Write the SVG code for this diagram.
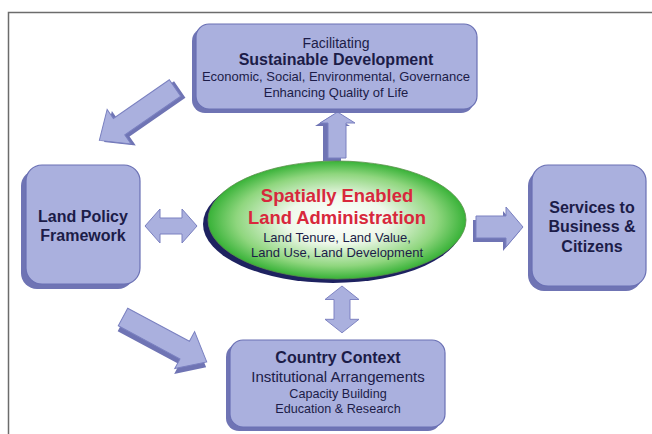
<svg xmlns="http://www.w3.org/2000/svg" width="652" height="434" viewBox="0 0 652 434">
<defs>
<radialGradient id="g" cx="0.5" cy="0.5" r="0.5">
<stop offset="0" stop-color="#ffffff"/>
<stop offset="0.4" stop-color="#eef8ea"/>
<stop offset="0.78" stop-color="#8fd67e"/>
<stop offset="1" stop-color="#38b238"/>
</radialGradient>
<polygon id="dbl" points="0,0 15,-17 15,-8 37,-8 37,-17 52,0 37,17 37,8 15,8 15,17"/>
</defs>
<style>
.box{fill:#aab0de;stroke:#6a70b4;stroke-width:1.2}
.sh{fill:#6f74b4}
.arr{fill:#aab0de;stroke:#7a80c0;stroke-width:1}
.t{font-family:"Liberation Sans",Arial,sans-serif;fill:#1c1c48;text-anchor:middle}
.b{font-weight:bold}
.r{font-family:"Liberation Sans",Arial,sans-serif;fill:#d8283c;font-weight:bold;text-anchor:middle}
</style>
<rect width="652" height="434" fill="#ffffff"/>
<path d="M8.5,434 V12.5 H652" fill="none" stroke="#6c6c6c" stroke-width="1.5"/>

<g id="connectors">
<g transform="translate(175,88) rotate(145.3)">
<polygon class="sh" transform="translate(-3,-4)" points="0,-10 68,-10 68,-21 92,0 68,21 68,10 0,10"/>
<polygon class="arr" points="0,-10 68,-10 68,-21 92,0 68,21 68,10 0,10"/>
</g>
<g transform="translate(123,317) rotate(28.2)">
<polygon class="sh" transform="translate(2,5)" points="0,-10 70,-10 70,-21 95,0 70,21 70,10 0,10"/>
<polygon class="arr" points="0,-10 70,-10 70,-21 95,0 70,21 70,10 0,10"/>
</g>
<polygon class="sh" transform="translate(-5,3)" points="328,158 328,123 320,123 337.5,112 355,123 346,123 346,158"/>
<polygon class="arr" points="328,158 328,123 320,123 337.5,112 355,123 346,123 346,158"/>
<use href="#dbl" class="arr" transform="translate(145,226)"/>
<polygon class="sh" transform="translate(-3,4)" points="476,216 506,216 506,207 523,227 506,247 506,238 476,238"/>
<polygon class="arr" points="476,216 506,216 506,207 523,227 506,247 506,238 476,238"/>
<use href="#dbl" class="arr" transform="translate(342,286) rotate(90) scale(0.9,1)"/>
</g>

<g id="top">
<rect class="sh" x="192" y="28" width="282" height="85" rx="13"/>
<rect class="box" x="196" y="24" width="281" height="85" rx="13"/>
<text class="t" x="336" y="48" font-size="14">Facilitating</text>
<text class="t b" x="336" y="65" font-size="16">Sustainable Development</text>
<text class="t" x="336" y="81" font-size="13">Economic, Social, Environmental, Governance</text>
<text class="t" x="336" y="97" font-size="13">Enhancing Quality of Life</text>
</g>

<g id="left">
<rect class="sh" x="21" y="170" width="113" height="119" rx="16"/>
<rect class="box" x="26" y="165" width="114" height="119" rx="16"/>
<text class="t b" x="83" y="222" font-size="16">Land Policy</text>
<text class="t b" x="83" y="241" font-size="16">Framework</text>
</g>

<g id="center">
<ellipse cx="333" cy="224" rx="130" ry="59" fill="#1e2260"/>
<ellipse cx="337" cy="220" rx="129" ry="59" fill="url(#g)" stroke="#5a8f4a" stroke-width="0.8"/>
<text class="r" x="337" y="202" font-size="18.4">Spatially Enabled</text>
<text class="r" x="337" y="224" font-size="18.4">Land Administration</text>
<text class="t" x="337" y="242" font-size="13">Land Tenure, Land Value,</text>
<text class="t" x="337" y="257" font-size="13">Land Use, Land Development</text>
</g>

<g id="right">
<rect class="sh" x="528" y="170" width="114" height="121" rx="16"/>
<rect class="box" x="532" y="165" width="114" height="121" rx="16"/>
<text class="t b" x="592" y="213" font-size="16">Services to</text>
<text class="t b" x="592" y="232" font-size="16">Business &amp;</text>
<text class="t b" x="592" y="252" font-size="16">Citizens</text>
</g>

<g id="bottom">
<rect class="sh" x="226" y="344" width="215" height="87" rx="13"/>
<rect class="box" x="230" y="340" width="215" height="87" rx="13"/>
<text class="t b" x="338" y="363" font-size="16">Country Context</text>
<text class="t" x="338" y="382" font-size="15">Institutional Arrangements</text>
<text class="t" x="338" y="398" font-size="12.6">Capacity Building</text>
<text class="t" x="338" y="413" font-size="12.6">Education &amp; Research</text>
</g>
</svg>
